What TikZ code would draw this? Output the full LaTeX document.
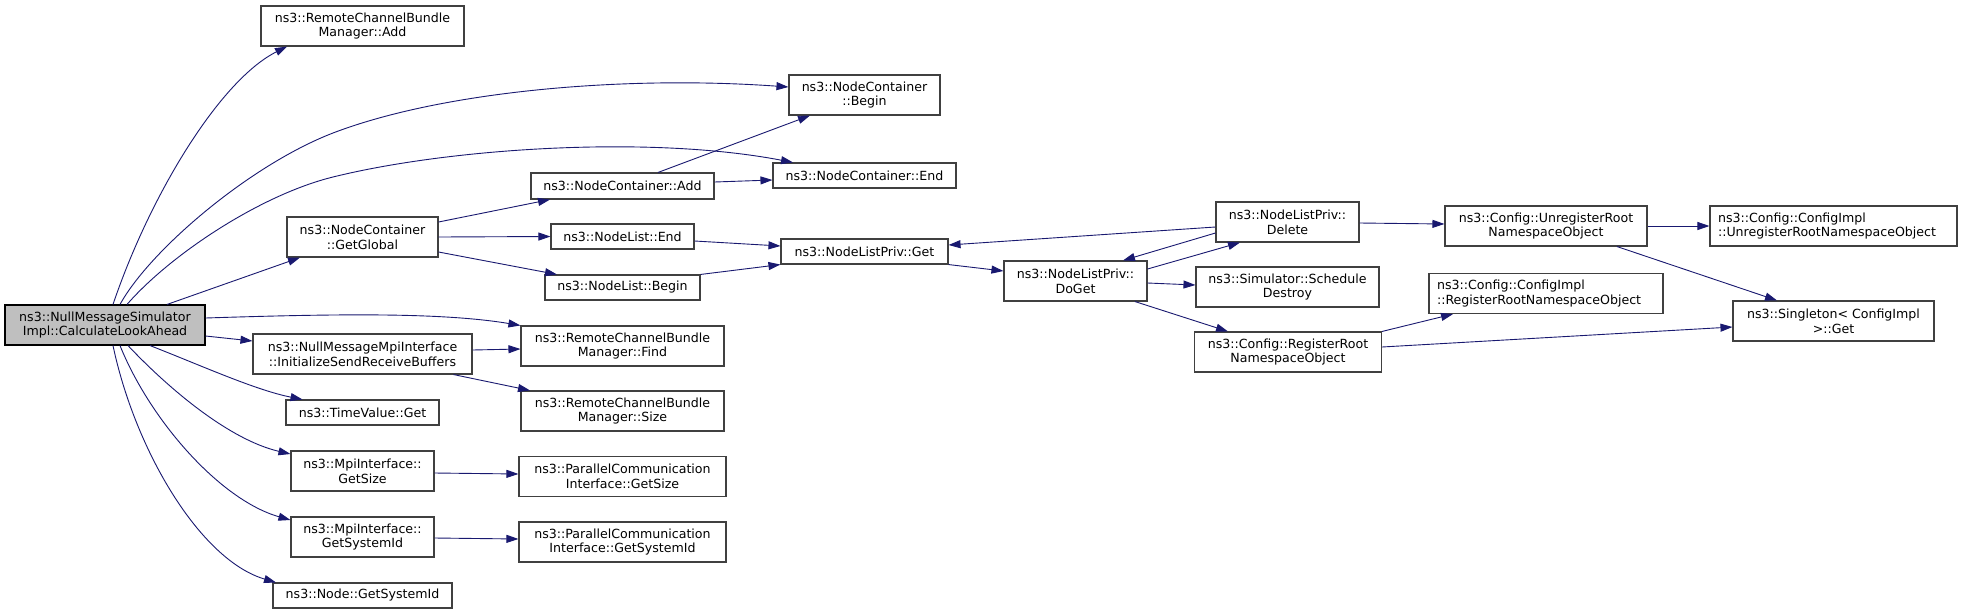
\documentclass[tikz,border=0pt]{standalone}
\usepackage{fontspec}
\newfontfamily\dv{DejaVu Sans}
\usetikzlibrary{arrows.meta}
\definecolor{edgec}{HTML}{191970}
\definecolor{boxc}{HTML}{404040}
\definecolor{mainfill}{HTML}{BFBFBF}
\begin{document}
\begin{tikzpicture}[x=1pt,y=-1pt,
  box/.style={draw=boxc, line width=1.1pt, fill=white, inner sep=0pt, align=center,
    font=\dv\fontsize{12.6}{14.7}\selectfont},
  lbox/.style={box, align=left, inner xsep=8pt, inner ysep=0pt},
  mainbox/.style={box, draw=black, fill=mainfill},
  edge/.style={draw=edgec, line width=0.9pt, -{Triangle[length=12pt,width=8pt]}}]
\fill[white] (0,0) rectangle (1963,614);
\useasboundingbox (0,0) rectangle (1963,614);

% nodes
\node[mainbox, minimum width=200pt, minimum height=40pt] (main) at (105,325) {ns3::NullMessageSimulator\\Impl::CalculateLookAhead};
\node[box, minimum width=203pt, minimum height=40pt] (rcbAdd) at (362.5,26) {ns3::RemoteChannelBundle\\Manager::Add};
\node[box, minimum width=151pt, minimum height=40pt] (ncBegin) at (864.5,95) {ns3::NodeContainer\\::Begin};
\node[box, minimum width=183pt, minimum height=25pt] (ncEnd) at (864.5,175.5) {ns3::NodeContainer::End};
\node[box, minimum width=151pt, minimum height=40pt] (getGlobal) at (362.5,237) {ns3::NodeContainer\\::GetGlobal};
\node[box, minimum width=183pt, minimum height=26pt] (ncAdd) at (622.5,186) {ns3::NodeContainer::Add};
\node[box, minimum width=143pt, minimum height=25pt] (nlEnd) at (622.5,236.5) {ns3::NodeList::End};
\node[box, minimum width=155pt, minimum height=25pt] (nlBegin) at (622.5,287.5) {ns3::NodeList::Begin};
\node[box, minimum width=167pt, minimum height=25pt] (nlpGet) at (864.5,251.5) {ns3::NodeListPriv::Get};
\node[box, minimum width=203pt, minimum height=40pt] (rcbFind) at (622.5,346) {ns3::RemoteChannelBundle\\Manager::Find};
\node[box, minimum width=219pt, minimum height=40pt] (nmInit) at (362.5,354) {ns3::NullMessageMpiInterface\\::InitializeSendReceiveBuffers};
\node[box, minimum width=203pt, minimum height=40pt] (rcbSize) at (622.5,411) {ns3::RemoteChannelBundle\\Manager::Size};
\node[box, minimum width=153pt, minimum height=25pt] (tvGet) at (362.5,412.5) {ns3::TimeValue::Get};
\node[box, minimum width=143pt, minimum height=40pt] (mpiSize) at (362.5,471) {ns3::MpiInterface::\\GetSize};
\node[box, minimum width=207pt, minimum height=40pt] (pciSize) at (622.5,476.5) {ns3::ParallelCommunication\\Interface::GetSize};
\node[box, minimum width=143pt, minimum height=40pt] (mpiSys) at (362.5,537) {ns3::MpiInterface::\\GetSystemId};
\node[box, minimum width=207pt, minimum height=40pt] (pciSys) at (622.5,542) {ns3::ParallelCommunication\\Interface::GetSystemId};
\node[box, minimum width=179pt, minimum height=25pt] (nodeSys) at (362.5,595.5) {ns3::Node::GetSystemId};
\node[box, minimum width=143pt, minimum height=40pt] (delete) at (1287.5,222) {ns3::NodeListPriv::\\Delete};
\node[box, minimum width=143pt, minimum height=40pt] (doGet) at (1075.5,281) {ns3::NodeListPriv::\\DoGet};
\node[box, minimum width=183pt, minimum height=40pt] (schedDestroy) at (1287.5,287) {ns3::Simulator::Schedule\\Destroy};
\node[box, minimum width=187pt, minimum height=40pt] (regRoot) at (1288,352) {ns3::Config::RegisterRoot\\NamespaceObject};
\node[box, minimum width=202pt, minimum height=40pt] (unregRoot) at (1546,226) {ns3::Config::UnregisterRoot\\NamespaceObject};
\node[lbox, text width=231pt, minimum height=40pt] (ciUnreg) at (1833.5,226) {ns3::Config::ConfigImpl\\::UnregisterRootNamespaceObject};
\node[lbox, text width=218pt, minimum height=40pt] (ciReg) at (1546,293.5) {ns3::Config::ConfigImpl\\::RegisterRootNamespaceObject};
\node[box, minimum width=201pt, minimum height=40pt] (singleton) at (1833.5,321) {ns3::Singleton< ConfigImpl\\ >::Get};

% edges from main
\draw[edge] ([xshift=8pt]main.north) .. controls (150,195) and (220,80) .. ([xshift=-75.5pt]rcbAdd.south);
\draw[edge] ([xshift=15pt]main.north) .. controls (150,250) and (250,165) .. (333,133)
   .. controls (440,92) and (620,75) .. ([yshift=8pt]ncBegin.west);
\draw[edge] ([xshift=22pt]main.north) .. controls (170,255) and (260,195) .. (333,177)
   .. controls (450,148) and (650,135) .. ([xshift=-71.5pt]ncEnd.north);
\draw[edge] ([xshift=62pt]main.north) -- ([xshift=-62.5pt]getGlobal.south);
\draw[edge] ([yshift=7pt]main.east) .. controls (330,314) and (440,312) .. (rcbFind.north west);
\draw[edge] ([yshift=-11pt]main.east) -- ([yshift=13pt]nmInit.west);
\draw[edge] ([xshift=45pt]main.south) .. controls (200,365) and (255,390) .. ([xshift=-60pt]tvGet.north);
\draw[edge] ([xshift=23pt]main.south) .. controls (170,390) and (230,440) .. ([yshift=17pt]mpiSize.west);
\draw[edge] ([xshift=15pt]main.south) .. controls (150,420) and (220,500) .. ([yshift=17pt]mpiSys.west);
\draw[edge] ([xshift=8pt]main.south) .. controls (135,450) and (200,560) .. ([xshift=-86.5pt]nodeSys.north);

% other edges
\draw[edge] ([yshift=4pt]nmInit.east) -- ([yshift=-3pt]rcbFind.west);
\draw[edge] ([xshift=91pt]nmInit.south) -- ([xshift=-92.5pt]rcbSize.north);
\draw[edge] ([yshift=-2pt]mpiSize.east) -- ([yshift=2.5pt]pciSize.west);
\draw[edge] ([yshift=-1pt]mpiSys.east) -- ([yshift=3pt]pciSys.west);
\draw[edge] ([yshift=15pt]getGlobal.east) -- ([xshift=-72.5pt]ncAdd.south);
\draw[edge] (getGlobal.east) -- (nlEnd.west);
\draw[edge] ([yshift=-15pt]getGlobal.east) -- ([xshift=-65.5pt]nlBegin.north);
\draw[edge] ([xshift=35.5pt]ncAdd.north) -- ([xshift=-54.5pt]ncBegin.south);
\draw[edge] ([yshift=4pt]ncAdd.east) -- ([yshift=-4.5pt]ncEnd.west);
\draw[edge] ([yshift=-4.5pt]nlEnd.east) -- ([yshift=5.5pt]nlpGet.west);
\draw[edge] (nlBegin.north east) -- (nlpGet.south west);
\draw[edge] (nlpGet.south east) -- ([yshift=10pt]doGet.west);
\draw[edge] ([yshift=12pt]doGet.east) -- ([xshift=-47.5pt]delete.south);
\draw[edge] ([yshift=-11pt]delete.west) -- ([xshift=47.5pt]doGet.north);
\draw[edge] ([yshift=-5pt]delete.west) -- ([yshift=6.5pt]nlpGet.east);
\draw[edge] ([yshift=-2pt]doGet.east) -- ([yshift=2pt]schedDestroy.west);
\draw[edge] ([xshift=59.5pt]doGet.south) -- ([xshift=-60pt]regRoot.north);
\draw[edge] ([yshift=-1pt]delete.east) -- ([yshift=2pt]unregRoot.west);
\draw[edge] (unregRoot.east) -- (ciUnreg.west);
\draw[edge] ([xshift=71pt]unregRoot.south) -- ([xshift=-56.5pt]singleton.north);
\draw[edge] (regRoot.north east) -- ([xshift=-93pt]ciReg.south);
\draw[edge] ([yshift=5pt]regRoot.east) -- ([yshift=-6pt]singleton.west);
\end{tikzpicture}
\end{document}
